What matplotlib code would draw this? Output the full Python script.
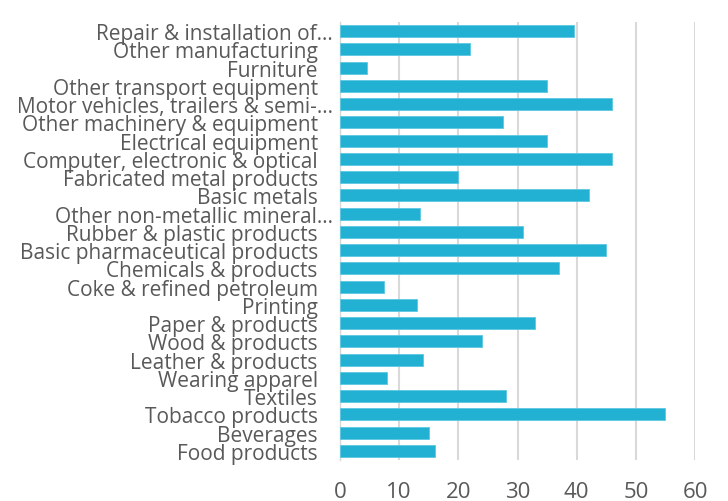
import matplotlib
matplotlib.use('Agg')
import matplotlib.pyplot as plt

categories = ['Food products', 'Beverages', 'Tobacco products', 'Textiles',
              'Wearing apparel', 'Leather & products', 'Wood & products',
              'Paper & products', 'Printing', 'Coke & refined petroleum',
              'Chemicals & products', 'Basic pharmaceutical products',
              'Rubber & plastic products', 'Other non-metallic mineral\u2026',
              'Basic metals', 'Fabricated metal products',
              'Computer, electronic & optical', 'Electrical equipment',
              'Other machinery & equipment', 'Motor vehicles, trailers & semi-\u2026',
              'Other transport equipment', 'Furniture', 'Other manufacturing',
              'Repair & installation of\u2026']
values = [16, 15, 55, 28, 8, 14, 24, 33, 13, 7.5, 37, 45, 31, 13.5, 42, 20,
          46, 35, 27.5, 46, 35, 4.5, 22, 39.5]
xticks = [0, 10, 20, 30, 40, 50, 60]

plt.rcParams['font.family'] = ['Open Sans', 'DejaVu Sans']
txt = '#595959'

fig = plt.figure(figsize=(7.28, 5.02), dpi=100)
ax = fig.add_axes([340/728, 1 - 461/502, 355/728, 438/502])

ax.barh(range(len(categories)), values, height=0.66, color='#22B1D3',
        edgecolor='#5CC8E0', linewidth=0.6, zorder=3)

ax.set_xlim(0, 60)
ax.set_ylim(-0.5, len(categories) - 0.5)
ax.set_xticks(xticks)
ax.set_yticks(range(len(categories)))
ax.set_yticklabels(categories, fontsize=15, color=txt)
ax.tick_params(axis='x', labelsize=16, colors=txt, length=0, pad=15)
ax.tick_params(axis='y', length=0, pad=16)
for i, t in enumerate(ax.yaxis.get_major_ticks()):
    if categories[i].endswith('\u2026'):
        t.set_pad(5)

ax.grid(axis='x', color='#d9d9d9', linewidth=1.5, zorder=0)
for s in ['top', 'right', 'bottom']:
    ax.spines[s].set_visible(False)
ax.spines['left'].set_color('#d9d9d9')
ax.spines['left'].set_linewidth(1)

fig.savefig('out.png', dpi=100)
